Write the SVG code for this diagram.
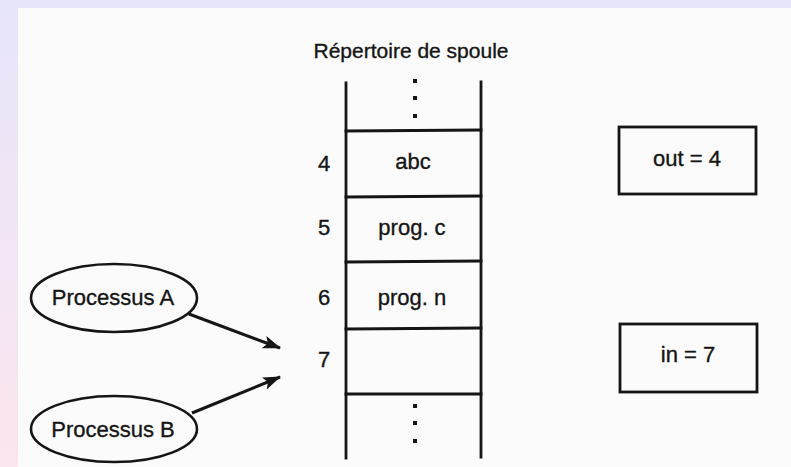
<svg xmlns="http://www.w3.org/2000/svg" width="791" height="467" viewBox="0 0 791 467">
  <defs>
    <linearGradient id="leftBand" x1="0" y1="0" x2="0" y2="1">
      <stop offset="0" stop-color="#e7e5fa"/>
      <stop offset="1" stop-color="#fbe5ee"/>
    </linearGradient>
    <marker id="arrow" viewBox="0 0 18 14" refX="17" refY="7" markerWidth="18" markerHeight="14" markerUnits="userSpaceOnUse" orient="auto">
      <path d="M0,0.5 L18,7 L0,13.5 L4,7 Z" fill="#151515"/>
    </marker>
    <style>
      .ln { stroke: #151515; stroke-width: 2.8; fill: none; stroke-linecap: square; }
      .box { stroke: #151515; stroke-width: 2.8; fill: none; }
      .ell { stroke: #151515; stroke-width: 2.6; fill: none; }
      .t { font-family: "Liberation Sans", Arial, sans-serif; font-size: 22px; fill: #151515; stroke: #151515; stroke-width: 0.35; text-anchor: middle; }
      .title { font-size: 21px; }
      .dot { fill: #151515; }
      .conn { stroke: #151515; stroke-width: 3; fill: none; }
    </style>
  </defs>

  <!-- page background -->
  <rect x="0" y="0" width="791" height="467" fill="#e7e5fa"/>
  <rect x="0" y="0" width="18" height="467" fill="url(#leftBand)"/>
  <rect x="18" y="8" width="773" height="459" fill="#fbfbfb"/>

  <!-- spool directory -->
  <g id="spool">
    <text class="t title" x="411" y="58">Répertoire de spoule</text>
    <line class="ln" x1="346" y1="83" x2="346" y2="458"/>
    <line class="ln" x1="481" y1="82" x2="481" y2="457"/>
    <line class="ln" x1="346" y1="131" x2="481" y2="130"/>
    <line class="ln" x1="346" y1="197" x2="481" y2="196"/>
    <line class="ln" x1="346" y1="262" x2="481" y2="261"/>
    <line class="ln" x1="346" y1="329" x2="481" y2="328"/>
    <line class="ln" x1="346" y1="394" x2="481" y2="394"/>
    <rect class="dot" x="413" y="79" width="4" height="4"/>
    <rect class="dot" x="413" y="96" width="4" height="4"/>
    <rect class="dot" x="413" y="114" width="4" height="4"/>
    <rect class="dot" x="413" y="404" width="4" height="4"/>
    <rect class="dot" x="413" y="421" width="4" height="4"/>
    <rect class="dot" x="413" y="439" width="4" height="4"/>
    <text class="t" x="324" y="171">4</text>
    <text class="t" x="324" y="235">5</text>
    <text class="t" x="324" y="305">6</text>
    <text class="t" x="324" y="367">7</text>
    <text class="t" x="413" y="169">abc</text>
    <text class="t" x="412" y="235">prog. c</text>
    <text class="t" x="412" y="305">prog. n</text>
  </g>

  <g id="out">
    <rect class="box" x="619" y="127" width="137" height="67"/>
    <text class="t" x="687" y="166">out = 4</text>
  </g>

  <g id="in">
    <rect class="box" x="620" y="324" width="137" height="68"/>
    <text class="t" x="688" y="362">in = 7</text>
  </g>

  <g id="processusA">
    <ellipse class="ell" cx="114" cy="298" rx="83" ry="34"/>
    <text class="t" x="113" y="305">Processus A</text>
  </g>

  <g id="processusB">
    <ellipse class="ell" cx="114" cy="429" rx="83" ry="33"/>
    <text class="t" x="113" y="437">Processus B</text>
  </g>

  <g id="connectors">
    <line class="conn" x1="189" y1="314" x2="280" y2="348" marker-end="url(#arrow)"/>
    <line class="conn" x1="192" y1="413" x2="280" y2="377" marker-end="url(#arrow)"/>
  </g>
</svg>
